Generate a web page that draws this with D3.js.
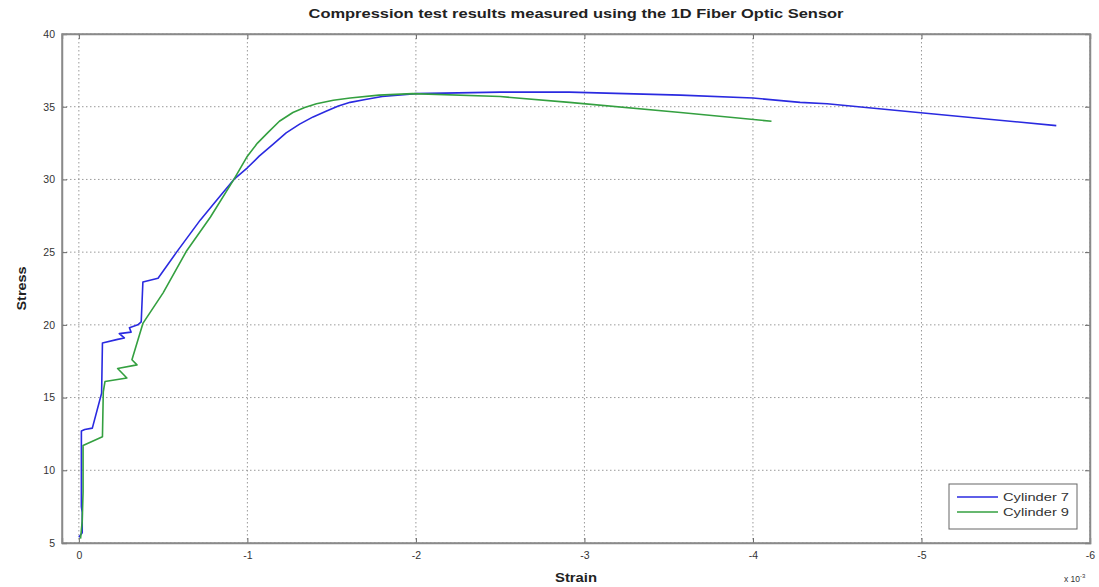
<!DOCTYPE html>
<html lang="en">
<head>
<meta charset="UTF-8">
<title>Compression test results</title>
<style>
    body { margin: 0; background: #fff; }
    svg { display: block; font-family: "Liberation Sans", Arial, sans-serif; }
    .grid line { stroke: #9a9a9a; stroke-dasharray: 1.5 2.5; stroke-width: 1; }
    .tick-label { font-size: 10.5px; fill: #333; }
</style>
</head>
<body>
<svg width="1099" height="587"></svg>
<script src="https://d3js.org/d3.v7.min.js"></script>
<script>
    // strain in units of 1e-3, stress
    var cyl7Strain = [0.0, -0.02, -0.02, -0.015, -0.015, -0.035, -0.08, -0.135, -0.14, -0.23, -0.27, -0.24, -0.31, -0.30, -0.35, -0.37, -0.38, -0.47, -0.58, -0.72, -0.82, -0.92, -1.0, -1.07, -1.15, -1.23, -1.31, -1.39, -1.47, -1.54, -1.61, -1.70, -1.80, -2.0, -2.5, -2.91, -3.57, -4.0, -4.28, -4.44, -4.98, -5.80];
    var cyl7Stress = [5.4, 5.7, 7.1, 7.5, 12.7, 12.8, 12.9, 15.3, 18.75, 19.0, 19.1, 19.4, 19.5, 19.8, 20.0, 20.2, 22.95, 23.2, 25.0, 27.2, 28.6, 30.0, 30.8, 31.6, 32.4, 33.2, 33.8, 34.3, 34.7, 35.05, 35.3, 35.5, 35.7, 35.9, 36.0, 36.0, 35.8, 35.6, 35.3, 35.2, 34.6, 33.7];

    var cyl9Strain = [-0.01, -0.02, -0.025, -0.025, -0.14, -0.145, -0.155, -0.285, -0.23, -0.345, -0.315, -0.38, -0.5, -0.64, -0.78, -0.92, -1.0, -1.06, -1.12, -1.19, -1.27, -1.34, -1.41, -1.51, -1.61, -1.78, -1.98, -2.5, -2.91, -3.57, -4.11];
    var cyl9Stress = [5.3, 6.5, 8.5, 11.7, 12.3, 15.4, 16.1, 16.35, 17.0, 17.25, 17.6, 20.1, 22.2, 25.1, 27.4, 30.0, 31.6, 32.5, 33.2, 34.0, 34.6, 34.95, 35.2, 35.45, 35.6, 35.8, 35.9, 35.7, 35.3, 34.6, 34.0];

    var xTicks = [0, -1, -2, -3, -4, -5, -6];
    var xTickLabels = ["0", "-1", "-2", "-3", "-4", "-5", "-6"];
    var yTicks = [5, 10, 15, 20, 25, 30, 35, 40];
    var seriesNames = ["Cylinder 7", "Cylinder 9"];
    var seriesColors = ["#2a2ae0", "#34a040"];

    var svg = d3.select("svg");
    var plotLeft = 62, plotRight = 1090, plotTop = 34, plotBottom = 543;

    // x is reversed: strain gets more negative to the right
    var x = d3.scaleLinear().domain([0.1, -6]).range([plotLeft, plotRight]);
    var y = d3.scaleLinear().domain([5, 40]).range([plotBottom, plotTop]);

    // grid
    var grid = svg.append("g").attr("class", "grid");
    grid.selectAll(".gx").data(xTicks).enter().append("line")
        .attr("x1", function (d) { return x(d); })
        .attr("x2", function (d) { return x(d); })
        .attr("y1", plotTop).attr("y2", plotBottom);
    grid.selectAll(".gy").data(yTicks).enter().append("line")
        .attr("x1", plotLeft).attr("x2", plotRight)
        .attr("y1", function (d) { return y(d); })
        .attr("y2", function (d) { return y(d); });

    // axes (ticks pointing inward like matlab)
    svg.append("g")
        .attr("transform", "translate(0," + plotBottom + ")")
        .call(d3.axisBottom(x).tickValues(xTicks).tickSize(-5).tickPadding(9)
            .tickFormat(function (d, i) { return xTickLabels[i]; }));
    svg.append("g")
        .attr("transform", "translate(" + plotLeft + ",0)")
        .call(d3.axisLeft(y).tickValues(yTicks).tickSize(-5).tickPadding(7));
    svg.append("g")
        .attr("transform", "translate(0," + plotTop + ")")
        .call(d3.axisTop(x).tickValues(xTicks).tickSize(-5).tickFormat(""));
    svg.append("g")
        .attr("transform", "translate(" + plotRight + ",0)")
        .call(d3.axisRight(y).tickValues(yTicks).tickSize(-5).tickFormat(""));

    svg.selectAll(".domain").attr("stroke", "#8a8a8a").attr("stroke-width", 1.5);
    svg.selectAll(".tick line").attr("stroke", "#666");
    svg.selectAll(".tick text").attr("class", "tick-label").attr("font-family", null).attr("font-size", null);

    // frame
    svg.append("rect")
        .attr("x", plotLeft).attr("y", plotTop)
        .attr("width", plotRight - plotLeft).attr("height", plotBottom - plotTop)
        .attr("fill", "none").attr("stroke", "#8a8a8a").attr("stroke-width", 1.5);

    // curves
    var line = d3.line()
        .x(function (d) { return x(d[0]); })
        .y(function (d) { return y(d[1]); });

    var series = [
        d3.zip(cyl7Strain, cyl7Stress),
        d3.zip(cyl9Strain, cyl9Stress)
    ];
    svg.selectAll(".curve").data(series).enter().append("path")
        .attr("class", "curve")
        .attr("d", line)
        .attr("fill", "none")
        .attr("stroke", function (d, i) { return seriesColors[i]; })
        .attr("stroke-width", 1.6)
        .attr("stroke-linejoin", "round");

    // title & labels (the source image is stretched sideways, so fix widths)
    svg.append("text")
        .attr("x", (plotLeft + plotRight) / 2).attr("y", 18)
        .attr("text-anchor", "middle")
        .attr("font-size", 12.5).attr("font-weight", "bold").attr("fill", "#222")
        .attr("textLength", 535).attr("lengthAdjust", "spacingAndGlyphs")
        .text("Compression test results measured using the 1D Fiber Optic Sensor");
    svg.append("text")
        .attr("x", (plotLeft + plotRight) / 2).attr("y", 582)
        .attr("text-anchor", "middle")
        .attr("font-size", 12).attr("font-weight", "bold").attr("fill", "#222")
        .attr("textLength", 42).attr("lengthAdjust", "spacingAndGlyphs")
        .text("Strain");
    svg.append("text")
        .attr("transform", "translate(26," + (plotTop + plotBottom) / 2 + ") rotate(-90)")
        .attr("text-anchor", "middle")
        .attr("font-size", 12).attr("font-weight", "bold").attr("fill", "#222")
        .attr("textLength", 44).attr("lengthAdjust", "spacingAndGlyphs")
        .text("Stress");

    // exponent label
    var expo = svg.append("text")
        .attr("x", 1064).attr("y", 582)
        .attr("font-size", 8.5).attr("fill", "#333");
    expo.append("tspan").text("x 10");
    expo.append("tspan").attr("dy", -4).attr("font-size", 6).text("-3");

    // legend
    var legend = svg.append("g").attr("transform", "translate(949,484)");
    legend.append("rect")
        .attr("width", 128).attr("height", 45)
        .attr("fill", "#fff").attr("stroke", "#666").attr("stroke-width", 1);
    var items = legend.selectAll(".legend-item").data(seriesNames).enter().append("g")
        .attr("class", "legend-item")
        .attr("transform", function (d, i) { return "translate(0," + (13 + i * 15) + ")"; });
    items.append("line")
        .attr("x1", 8).attr("x2", 49)
        .attr("stroke", function (d, i) { return seriesColors[i]; })
        .attr("stroke-width", 1.6);
    items.append("text")
        .attr("x", 54).attr("dy", "0.35em")
        .attr("font-size", 11).attr("fill", "#333")
        .attr("textLength", 66).attr("lengthAdjust", "spacingAndGlyphs")
        .text(function (d) { return d; });
</script>
</body>
</html>
